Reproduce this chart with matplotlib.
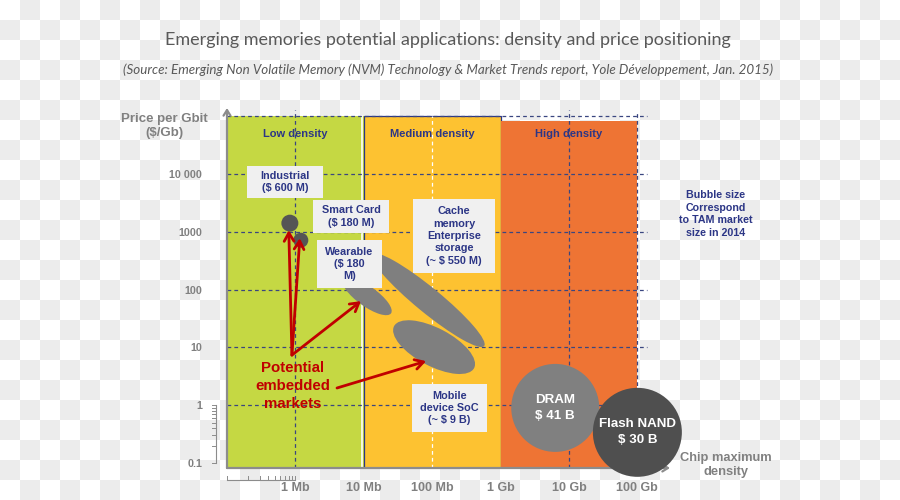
import numpy as np
import matplotlib
matplotlib.use("Agg")
import matplotlib.pyplot as plt
from matplotlib.colors import ListedColormap
from matplotlib.patches import Rectangle, Ellipse
from matplotlib.ticker import NullLocator
from matplotlib.transforms import IdentityTransform, blended_transform_factory

W, H = 900, 500

# density regions (bits)
region_names = ["Low density", "Medium density", "High density"]
region_edges = [1e5, 1e7, 1e9, 1e11]

density_ticks = [1e6, 1e7, 1e8, 1e9, 1e10, 1e11]
density_labels = ["1 Mb", "10 Mb", "100 Mb", "1 Gb", "10 Gb", "100 Gb"]
price_ticks = [0.1, 1, 10, 100, 1000, 10000]
price_labels = ["0.1", "1", "10", "100", "1000", "10 000"]

# round bubbles: chip density (bit), price ($/Gb), TAM 2014
bubble_names = ["Industrial", "Smart Card", "DRAM", "Flash NAND"]
bubble_density = [8.3e5, 1.2e6, 6.3e9, 1.0e11]
bubble_price = [1420, 720, 0.9, 0.34]
bubble_tam = ["$ 600 M", "$ 180 M", "$ 41 B", "$ 30 B"]

# elongated bubbles: both ends of the major axis (density, price)
span_names = ["Wearable", "Cache memory Enterprise storage", "Mobile device SoC"]
span_density_lo = [5.0e6, 1.32e7, 2.77e7]
span_density_hi = [2.5e7, 5.75e8, 4.1e8]
span_price_hi = [152, 413, 23.4]
span_price_lo = [39, 10.6, 4.4]
span_tam = ["$ 180 M", "~ $ 550 M", "~ $ 9 B"]

# "potential embedded markets" arrows
arrow_start_density = [8.9e5, 8.9e5, 8.9e5, 4.06e6]
arrow_start_price = [7.4, 7.4, 7.4, 1.99]
arrow_end_density = [8.0e5, 1.16e6, 9.1e6, 8.15e7]
arrow_end_price = [1075, 780, 63.6, 5.8]

NAVY = "#2c3686"
GRID = "#3a4680"
GRAY_TXT = "#808080"
RED = "#c00000"
BOLD = ["Liberation Sans", "DejaVu Sans"]

plt.rcParams["font.family"] = ["Lato", "DejaVu Sans"]


def fxy(x, y):
    # figure pixel (from top-left) -> figure fraction
    return x / W, 1 - y / H


fig = plt.figure(figsize=(W / 100, H / 100), dpi=100)

# checkered backdrop
bg = fig.add_axes([0, 0, 1, 1], zorder=-5)
checker = np.add.outer(np.arange(H // 20), np.arange(W // 20)) % 2
bg.imshow(checker, cmap=ListedColormap(["white", "#ececec"]), extent=(0, W, H, 0),
          interpolation="nearest", aspect="auto")
bg.set_xlim(0, W)
bg.set_ylim(H, 0)
bg.axis("off")

ax = fig.add_axes([227 / W, 1 - 468 / H, (670 - 227) / W, (468 - 108) / H])
ax.set_xscale("log")
ax.set_yscale("log")
ax.set_xlim(1e5, 3e11)
ax.set_ylim(0.082, 1.4e5)
ax.patch.set_alpha(0)
for s in ax.spines.values():
    s.set_visible(False)

ax.set_xticks(density_ticks, density_labels)
ax.set_yticks(price_ticks, price_labels)
ax.xaxis.set_minor_locator(NullLocator())
ax.yaxis.set_minor_locator(NullLocator())
ax.tick_params(length=0, labelcolor=GRAY_TXT)
ax.tick_params(axis="x", pad=10, labelsize=9)
ax.tick_params(axis="y", pad=18, labelsize=7.7)
for lbl in ax.get_xticklabels() + ax.get_yticklabels():
    lbl.set_fontweight("bold")
    lbl.set_family(BOLD)

# axis arrows
for tip in [(1, 0), (0, 1)]:
    ax.annotate("", xy=tip, xytext=(0, 0), xycoords="axes fraction",
                arrowprops=dict(arrowstyle="->,head_length=0.4,head_width=0.25",
                                color="#8c8c8c", lw=1.6, shrinkA=0, shrinkB=0))

# density regions
ylo = ax.get_ylim()[0]
region_colors = ["#c5d843", "#fdc231", "#ee7434"]
for i, name in enumerate(region_names):
    x0, x1 = region_edges[i], region_edges[i + 1]
    edge = NAVY if i == 1 else "none"
    top = 1e5 if i < 2 else 8.5e4
    ax.add_patch(Rectangle((x0, ylo), x1 - x0, top - ylo, fc=region_colors[i],
                           ec=edge, lw=0.9, zorder=0.5))
    xm = np.sqrt(x0 * x1)
    ax.text(xm, 5.0e4, name, ha="center", va="center", color=NAVY, family=BOLD,
            fontsize=8, fontweight="bold", zorder=5)
ax.plot([1e7 * 10 ** (-2 / 68.3)] * 2, [ylo, 1e5], color="white", lw=1.2, zorder=0.6)

# grid
ax.hlines([1e5, 1e4, 1e3, 1e2, 10, 1], 1e5, 1.4e11, colors=GRID,
          linestyles=(0, (3, 2.5)), lw=0.9, zorder=1)
ax.vlines([1e6, 1e10], ylo, 1.3e5, colors=GRID, linestyles=(0, (3, 2.5)), lw=0.9, zorder=1)
ax.vlines([1e11], ylo, 1.15e5, colors=GRID, linestyles=(0, (3, 2.5)), lw=0.9, zorder=1)
ax.vlines([1e8], ylo, 1e5, colors="white", linestyles=(0, (3, 2.5)), lw=0.9, zorder=1)

# small log rulers under the axes
bt = blended_transform_factory(ax.transData, fig.transFigure)
y_r = 1 - 480 / H
ax.plot([1e5, 1e6], [y_r, y_r], color="#8c8c8c", lw=0.8, transform=bt, clip_on=False)
for m in range(1, 11):
    ax.plot([m * 1e5] * 2, [y_r, y_r + 0.009], color="#8c8c8c", lw=0.7,
            transform=bt, clip_on=False)
lt = blended_transform_factory(fig.transFigure, ax.transData)
x_r = 216 / W
ax.plot([x_r, x_r], [0.1, 1], color="#8c8c8c", lw=0.8, transform=lt, clip_on=False)
for m in range(1, 11):
    ax.plot([x_r - 0.004, x_r], [m * 0.1] * 2, color="#8c8c8c", lw=0.7,
            transform=lt, clip_on=False)

# elongated bubbles
span_minor_px = [20, 25, 38]
for i in range(len(span_names)):
    p1 = ax.transData.transform((span_density_lo[i], span_price_hi[i]))
    p2 = ax.transData.transform((span_density_hi[i], span_price_lo[i]))
    c = (p1 + p2) / 2
    d = p2 - p1
    ax.add_patch(Ellipse(c, np.hypot(*d), span_minor_px[i],
                         angle=np.degrees(np.arctan2(d[1], d[0])),
                         transform=IdentityTransform(), fc="#7f7f7f", ec="none", zorder=2))

# round bubbles
bubble_px = [17, 15, 88, 89]
bubble_colors = ["#555555", "#555555", "#808080", "#4f4f4f"]
ax.scatter(bubble_density, bubble_price, s=[(d * 0.72) ** 2 for d in bubble_px],
           c=bubble_colors, linewidths=0, zorder=3, clip_on=False)
for i in (2, 3):
    ax.text(bubble_density[i], bubble_price[i], f"{bubble_names[i]}\n{bubble_tam[i]}",
            ha="center", va="center", color="white", fontsize=9.6, fontweight="bold",
            family=BOLD, linespacing=1.45, zorder=6)

# label boxes (pixel boxes)
box_px = [(247, 166, 323, 198), (313, 200, 389, 233), (317, 240, 382, 288),
          (413, 199, 495, 273), (412, 384, 487, 432)]
box_text = [f"Industrial\n({bubble_tam[0]})", f"Smart Card\n({bubble_tam[1]})",
            "Wearable\n($ 180\nM)", f"Cache\nmemory\nEnterprise\nstorage\n({span_tam[1]})",
            f"Mobile\ndevice SoC\n({span_tam[2]})"]
for (x0, y0, x1, y1), txt in zip(box_px, box_text):
    fx0, fy1 = fxy(x0, y1)
    ax.add_patch(Rectangle((fx0, fy1), (x1 - x0) / W, (y1 - y0) / H, fc="#f0f0f0",
                           ec="none", transform=fig.transFigure, clip_on=False, zorder=4))
    ax.text(*fxy((x0 + x1) / 2, (y0 + y1) / 2), txt, transform=fig.transFigure,
            ha="center", va="center", color=NAVY, fontsize=7.8, fontweight="bold",
            family=BOLD, linespacing=1.3, zorder=5)

# arrows
for i in range(len(arrow_end_density)):
    ax.annotate("", xy=(arrow_end_density[i], arrow_end_price[i]),
                xytext=(arrow_start_density[i], arrow_start_price[i]),
                arrowprops=dict(arrowstyle="->,head_length=0.6,head_width=0.35",
                                color=RED, lw=2, shrinkA=0, shrinkB=0), zorder=5)
ax.text(*fxy(293, 386), "Potential\nembedded\nmarkets", transform=fig.transFigure,
        ha="center", va="center", color=RED, fontsize=10.8, fontweight="bold",
        family=BOLD, linespacing=1.32, zorder=6)

ax.text(*fxy(716, 214), "Bubble size\nCorrespond\nto TAM market\nsize in 2014",
        transform=fig.transFigure, ha="center", va="center", color=NAVY,
        fontsize=7.7, fontweight="bold", family=BOLD, linespacing=1.3)
fig.text(*fxy(164, 126), "Price per Gbit\n($/Gb)", ha="center", va="center",
         color=GRAY_TXT, fontsize=9.5, fontweight="bold", family=BOLD, linespacing=1.3)
fig.text(*fxy(726, 465), "Chip maximum\ndensity", ha="center", va="center",
         color=GRAY_TXT, fontsize=9.3, fontweight="bold", family=BOLD, linespacing=1.3)

fig.text(*fxy(448, 40), "Emerging memories potential applications: density and price positioning",
         ha="center", va="center", color="#595959", fontsize=13)
fig.text(*fxy(448, 70),
         "(Source: Emerging Non Volatile Memory (NVM) Technology & Market Trends report, "
         "Yole Développement, Jan. 2015)",
         ha="center", va="center", color="#595959", fontsize=9.6, style="italic")

fig.savefig("out.png", dpi=100)
